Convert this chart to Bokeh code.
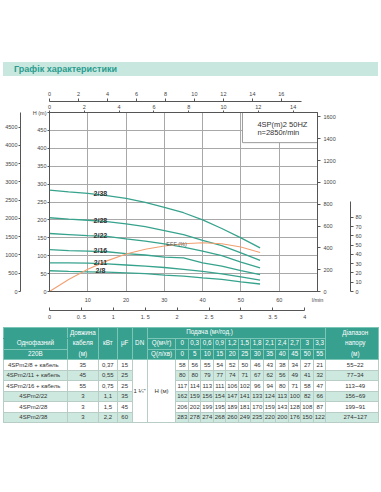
import numpy as np
from bokeh.plotting import figure
from bokeh.models import Range1d, LinearAxis, FixedTicker, Label, Div
from bokeh.layouts import column
from bokeh.embed import file_html
from bokeh.resources import INLINE
from bokeh.core.properties import value

# ---------------- data ----------------
title_text = "Графік характеристики"
curve_names = ["2/8", "2/11", "2/16", "2/22", "2/28", "2/38"]
q_lmin = [0, 5, 10, 15, 20, 25, 30, 35, 40, 45, 50, 55]
q_m3h = ["0", "0,3", "0,6", "0,9", "1,2", "1,5", "1,8", "2,1", "2,4", "2,7", "3", "3,3"]
head_2_8 = [58, 56, 55, 54, 52, 50, 46, 43, 38, 34, 27, 21]
head_2_11 = [80, 80, 79, 77, 74, 71, 67, 62, 56, 49, 41, 32]
head_2_16 = [117, 114, 113, 111, 106, 102, 96, 94, 80, 71, 58, 47]
head_2_22 = [162, 159, 156, 154, 147, 141, 133, 124, 113, 100, 82, 66]
head_2_28 = [206, 202, 199, 195, 189, 181, 170, 159, 143, 128, 108, 87]
head_2_38 = [283, 278, 274, 268, 260, 249, 235, 220, 200, 176, 150, 122]
heads = [head_2_8, head_2_11, head_2_16, head_2_22, head_2_28, head_2_38]
eff = [0, 13, 24, 33, 40.5, 45.5, 49, 51.5, 52.5, 51.5, 48, 42]

row_names = ["4SPm2/8 + кабель", "4SPm2/11 + кабель", "4SPm2/16 + кабель",
             "4SPm2/22", "4SPm2/28", "4SPm2/38"]
cable_len = ["35", "45", "55", "3", "3", "3"]
kw = ["0,37", "0,55", "0,75", "1,1", "1,5", "2,2"]
uf = ["15", "25", "25", "35", "45", "60"]
dn = "1 ¼\""
head_range = ["55~22", "77~34", "113~49", "156~69", "199~91", "274~127"]

h_ticks = list(range(0, 501, 50))
p_ticks = list(range(0, 4501, 500))
lmin_ticks = list(range(0, 71, 10))
m3h_ticks = [0, 0.5, 1, 1.5, 2, 2.5, 3, 3.5, 4]
m3h_labels = ["0", "0. 5", "1", "1. 5", "2", "2. 5", "3", "3. 5", "4"]
us_ticks = list(range(0, 17, 2))
imp_ticks = list(range(0, 15, 2))
feet_ticks = list(range(0, 1601, 200))
eff_ticks = list(range(0, 81, 10))

# ---------------- styles ----------------
FONT = "Liberation Sans"
TEAL = "#37a38d"
ORANGE = "#f2a071"
HEAD_BG = "#37a08f"
HEAD_LINE = "#7cc6b7"
ROW_BG = "#cde9df"
BODY_LINE = "#b7cdc5"
AX = "#555555"
TXT = "#444444"

X_MAX = 70.0
H_MAX = 500.0

p = figure(width=381, height=246, x_range=Range1d(0, X_MAX), y_range=Range1d(0, H_MAX),
           output_backend="svg", toolbar_location=None, title=None,
           min_border_left=49, min_border_right=64, min_border_top=36, min_border_bottom=26)
p.outline_line_color = AX
p.background_fill_color = "white"

p.extra_y_ranges = {"p": Range1d(0, H_MAX * 9.80665),
                    "feet": Range1d(0, H_MAX / 0.3048),
                    "eff": Range1d(0, 184 / 0.954)}
p.extra_x_ranges = {"us": Range1d(0, X_MAX / 3.78541),
                    "imp": Range1d(0, X_MAX / 4.54609),
                    "m3h": Range1d(0, X_MAX * 0.06)}


def style_axis(ax, tick_out=2, tick_in=0, standoff=2, size="5.5px"):
    ax.major_label_text_font_size = size
    ax.major_label_text_font = FONT
    ax.major_label_text_color = TXT
    ax.major_tick_out = tick_out
    ax.major_tick_in = tick_in
    ax.minor_tick_out = 0
    ax.minor_tick_in = 0
    ax.major_label_standoff = standoff
    ax.axis_line_color = AX
    ax.major_tick_line_color = AX


def pad_axis(ax, px):
    ax.axis_label = " "
    ax.axis_label_text_font_size = "1px"
    ax.axis_label_standoff = px


# H axis (left, adjacent)
hax = p.yaxis[0]
hax.ticker = FixedTicker(ticks=h_ticks)
hax.major_label_overrides = {500: "H (m)"}
style_axis(hax, tick_out=2, standoff=1)
pad_axis(hax, 5)

# P axis (left, outer)
pax = LinearAxis(y_range_name="p", ticker=FixedTicker(ticks=p_ticks))
style_axis(pax, tick_out=2, standoff=1)
p.add_layout(pax, "left")

# l/min axis (below, adjacent)
xax = p.xaxis[0]
xax.ticker = FixedTicker(ticks=lmin_ticks)
xax.major_label_overrides = {0: "", 70: "l/min"}
style_axis(xax, tick_out=0, standoff=5)
pad_axis(xax, 1)

# m3/h axis (below, outer)
max_ = LinearAxis(x_range_name="m3h", ticker=FixedTicker(ticks=m3h_ticks))
max_.major_label_overrides = {t: s for t, s in zip(m3h_ticks, m3h_labels)}
style_axis(max_, tick_out=0, tick_in=3, standoff=3)
max_.bounds = (0, 4)
p.add_layout(max_, "below")

# Imp g.p.m axis (above, adjacent)
iax = LinearAxis(x_range_name="imp", ticker=FixedTicker(ticks=imp_ticks))
style_axis(iax, tick_out=2, standoff=2)
p.add_layout(iax, "above")

# US g.p.m axis (above, outer)
uax = LinearAxis(x_range_name="us", ticker=FixedTicker(ticks=us_ticks))
style_axis(uax, tick_out=3, standoff=3)
uax.bounds = (0, 17.4)
p.add_layout(uax, "above")

# Feet axis (right, adjacent)
fax = LinearAxis(y_range_name="feet", ticker=FixedTicker(ticks=feet_ticks))
style_axis(fax, tick_out=3, standoff=3)
pad_axis(fax, 8)
p.add_layout(fax, "right")

# EFF axis (right, outer)
eax = LinearAxis(y_range_name="eff", ticker=FixedTicker(ticks=eff_ticks))
style_axis(eax, tick_out=3, standoff=2)
eax.bounds = (0, 97)
p.add_layout(eax, "right")

# grid
p.xgrid.ticker = FixedTicker(ticks=lmin_ticks[1:-1])
p.ygrid.ticker = FixedTicker(ticks=h_ticks[1:-1])
p.xgrid.grid_line_color = "#a8a8a8"
p.ygrid.grid_line_color = "#a8a8a8"
p.xgrid.grid_line_width = 1
p.ygrid.grid_line_width = 1

# info box (top right)
p.quad(left=[50.4], right=[X_MAX], bottom=[415.8], top=[H_MAX],
       fill_color="white", line_color="#9a9a9a", line_width=1)

# curves
for name, h in zip(curve_names, heads):
    p.line(q_lmin, h, line_color=TEAL, line_width=1.3)

p.line(q_lmin, eff, y_range_name="eff", line_color=ORANGE, line_width=1.1)

# curve labels
lab_x = 13.3
lab_y = [float(np.interp(lab_x, q_lmin, h)) + 3 for h in heads]
p.text(x=[lab_x] * len(curve_names), y=lab_y, text=curve_names,
       text_font=value(FONT), text_font_size="7px", text_font_style="bold",
       text_color="#333333", text_align="center", text_baseline="middle")

p.text(x=[33.2], y=[51.6], text=["EFF (%)"], y_range_name="eff",
       text_font=value(FONT), text_font_size="5.5px", text_color="#555555",
       text_align="center", text_baseline="middle")


def add_label(x, y, text, size="5.5px", align="center", y_range_name="default", color=TXT):
    lab = Label(x=x, y=y, text=text, text_font=FONT, text_font_size=size,
                text_color=color, text_align=align, text_baseline="middle",
                y_range_name=y_range_name)
    p.add_layout(lab)


add_label(54.3, 467.4, "4SP(m)2  50HZ", size="7.5px", align="left", color="#333333")
add_label(54.3, 444.3, "n=2850r/min", size="7.5px", align="left", color="#333333")
add_label(-8.5, 500, "P (KPa)")
add_label(68.6, 551.6, "US g.p.m")
add_label(68.8, 521.7, "Imp g.p.m")
add_label(70.0, -49.0, "m³/h", size="6px")
add_label(72.6, 508.0, "Feet", size="5px")
add_label(80.3, 236.4, "EFF (%)", size="5px")

# ---------------- title band ----------------
title_div = Div(
    text=('<div style="margin:62px 0 0 3px;width:375px;height:14px;'
          'background:#c8e7df;color:#2a9d8f;font-family:\'Liberation Sans\';'
          'font-weight:bold;font-size:9px;line-height:14px;padding-left:11px;'
          'box-sizing:border-box;white-space:nowrap">' + title_text + '</div>'),
    width=381, height=76, margin=0)

# ---------------- table (HTML) ----------------
col_w = [63.7, 31.3, 18.7, 15, 15, 28.8] + [12.5] * len(q_lmin) + [52.5]
base = ("padding:0;text-align:center;vertical-align:middle;white-space:nowrap;"
        "font-family:'Liberation Sans';")
HS = base + "background:%s;color:white;font-size:6.3px;border:1px solid %s;" % (HEAD_BG, HEAD_LINE)
HS3 = HS + "line-height:10.4px;"


def dstyle(bg):
    return base + "background:%s;color:#333;font-size:6px;border:1px solid %s;" % (bg, BODY_LINE)


rows_html = []
r1 = ('<td style="%sborder-bottom-color:%s"></td>' % (HS, HEAD_BG)
      + '<td rowspan="3" style="%s">Довжина<br>кабеля<br>(м)</td>' % HS3
      + '<td rowspan="3" style="%s">кВт</td>' % HS
      + '<td rowspan="3" style="%s">μF</td>' % HS
      + '<td rowspan="3" style="%s">DN</td>' % HS
      + '<td colspan="%d" style="%spadding-right:54px">Подача (м³/год.)</td>' % (len(q_lmin) + 1, HS)
      + '<td rowspan="3" style="%spadding-left:6px">Діапазон<br>напору<br>(м)</td>' % HS3)
rows_html.append('<tr style="height:10.3px">' + r1 + '</tr>')
r2 = ('<td style="%sborder-top-color:%s">Однофазний</td>' % (HS, HEAD_BG)
      + '<td style="%s">Q(м³/г)</td>' % HS
      + "".join('<td style="%s">%s</td>' % (HS, q) for q in q_m3h))
rows_html.append('<tr style="height:10.7px">' + r2 + '</tr>')
r3 = ('<td style="%s">220В</td>' % HS
      + '<td style="%s">Q(л/хв)</td>' % HS
      + "".join('<td style="%s">%d</td>' % (HS, q) for q in q_lmin))
rows_html.append('<tr style="height:10.3px">' + r3 + '</tr>')

for i in range(len(row_names)):
    bg = "white" if i % 2 == 0 else ROW_BG
    s = dstyle(bg)
    cells = ('<td style="%spadding-right:4px">%s</td>' % (s, row_names[i])
             + '<td style="%s">%s</td>' % (s, cable_len[i])
             + '<td style="%s">%s</td>' % (s, kw[i])
             + '<td style="%s">%s</td>' % (s, uf[i]))
    if i == 0:
        sw = dstyle("white")
        cells += ('<td rowspan="%d" style="%s">%s</td>' % (len(row_names), sw, dn)
                  + '<td rowspan="%d" style="%s">H (м)</td>' % (len(row_names), sw))
    cells += "".join('<td style="%s">%d</td>' % (s, v) for v in heads[i])
    cells += '<td style="%spadding-left:6px">%s</td>' % (s, head_range[i])
    rows_html.append('<tr style="height:10.5px">' + cells + '</tr>')

table_html = ('<table style="border-collapse:collapse;table-layout:fixed;width:375px;'
              'margin:5px 0 0 3px;">'
              + "<colgroup>" + "".join('<col style="width:%.1fpx">' % w for w in col_w) + "</colgroup>"
              + "".join(rows_html) + "</table>")
table_div = Div(text=table_html, width=381, height=110, margin=0)

layout = column(title_div, p, table_div, spacing=0)
html = file_html(layout, INLINE)
html = html.replace("<head>", "<head><style>html,body{margin:0;padding:0}</style>", 1)
open("out.html", "w").write(html)
